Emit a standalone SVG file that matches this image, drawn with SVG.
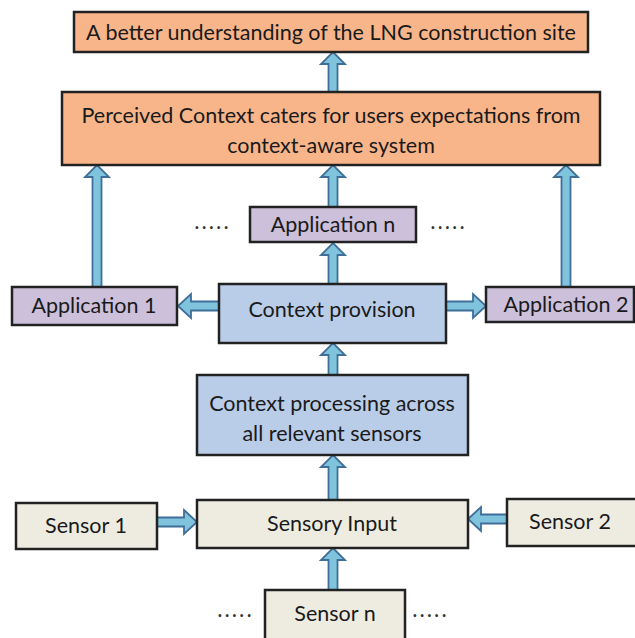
<svg xmlns="http://www.w3.org/2000/svg" width="635" height="638" viewBox="0 0 635 638">
<style>
.box{stroke:#222;stroke-width:2.5}
.orange{fill:#F9B58A}
.purple{fill:#CCC0DA}
.blue{fill:#B9CDE9}
.beige{fill:#EEECE1}
.arrow{fill:#80C3DC;stroke:#3F6F98;stroke-width:1.8;stroke-linejoin:miter}
text{font-family:Lato,"Open Sans","Liberation Sans",sans-serif;fill:#1a1a1a;text-anchor:middle}
.t{font-size:21.5px}
.dots{font-size:18px;font-weight:bold;fill:#333;letter-spacing:3px}
</style>
<rect width="635" height="638" fill="#fff"/>
<g id="connectors">
<path class="arrow" d="M328.5,92 L328.5,64 L321,64 L333,52 L345,64 L337.5,64 L337.5,92 Z"/>
<path class="arrow" d="M92.5,287 L92.5,177 L85,177 L97,165 L109,177 L101.5,177 L101.5,287 Z"/>
<path class="arrow" d="M328.5,207 L328.5,177 L321,177 L333,165 L345,177 L337.5,177 L337.5,207 Z"/>
<path class="arrow" d="M561.5,287 L561.5,177 L554,177 L566,165 L578,177 L570.5,177 L570.5,287 Z"/>
<path class="arrow" d="M328.5,285 L328.5,255 L321,255 L333,243 L345,255 L337.5,255 L337.5,285 Z"/>
<path class="arrow" d="M328.5,375 L328.5,355 L321,355 L333,343 L345,355 L337.5,355 L337.5,375 Z"/>
<path class="arrow" d="M328.5,500 L328.5,467 L321,467 L333,455 L345,467 L337.5,467 L337.5,500 Z"/>
<path class="arrow" d="M328.5,590 L328.5,560 L321,560 L333,548 L345,560 L337.5,560 L337.5,590 Z"/>
<path class="arrow" d="M219,301.5 L191,301.5 L191,294 L178,306 L191,318 L191,310.5 L219,310.5 Z"/>
<path class="arrow" d="M446,301.5 L473,301.5 L473,294 L486,306 L473,318 L473,310.5 L446,310.5 Z"/>
<path class="arrow" d="M157,517.5 L184,517.5 L184,510 L197,522 L184,534 L184,526.5 L157,526.5 Z"/>
<path class="arrow" d="M507,514.5 L481,514.5 L481,507 L468,519 L481,531 L481,523.5 L507,523.5 Z"/>
</g>
<g id="n-understanding">
<rect class="box orange" x="74" y="12" width="514" height="40"/>
<text class="t" x="331" y="40">A better understanding of the LNG construction site</text>
</g>
<g id="n-perceived">
<rect class="box orange" x="62" y="92" width="538" height="73"/>
<text class="t" x="331" y="123">Perceived Context caters for users expectations from</text>
<text class="t" x="331" y="153">context-aware system</text>
</g>
<g id="n-appn">
<rect class="box purple" x="250" y="207" width="166" height="35"/>
<text class="t" x="333" y="232">Application n</text>
</g>
<text class="dots" x="213" y="229">.....</text>
<text class="dots" x="449" y="229">.....</text>
<g id="n-app1">
<rect class="box purple" x="12" y="287" width="165" height="38"/>
<text class="t" x="94" y="313">Application 1</text>
</g>
<g id="n-provision">
<rect class="box blue" x="219" y="284" width="227" height="59"/>
<text class="t" x="332" y="317">Context provision</text>
</g>
<g id="n-app2">
<rect class="box purple" x="486" y="287" width="148" height="35"/>
<text class="t" x="566" y="312">Application 2</text>
</g>
<g id="n-processing">
<rect class="box blue" x="197" y="375" width="271" height="80"/>
<text class="t" x="332" y="411">Context processing across</text>
<text class="t" x="332" y="441">all relevant sensors</text>
</g>
<g id="n-sensory">
<rect class="box beige" x="197" y="500" width="271" height="48"/>
<text class="t" x="332" y="531">Sensory Input</text>
</g>
<g id="n-sensor1">
<rect class="box beige" x="16" y="503" width="141" height="46"/>
<text class="t" x="86" y="533">Sensor 1</text>
</g>
<g id="n-sensor2">
<rect class="box beige" x="507" y="499" width="130" height="47"/>
<text class="t" x="570" y="529">Sensor 2</text>
</g>
<g id="n-sensorn">
<rect class="box beige" x="265" y="590" width="140" height="52"/>
<text class="t" x="335" y="621">Sensor n</text>
</g>
<text class="dots" x="236" y="617">.....</text>
<text class="dots" x="431" y="617">.....</text>
</svg>
